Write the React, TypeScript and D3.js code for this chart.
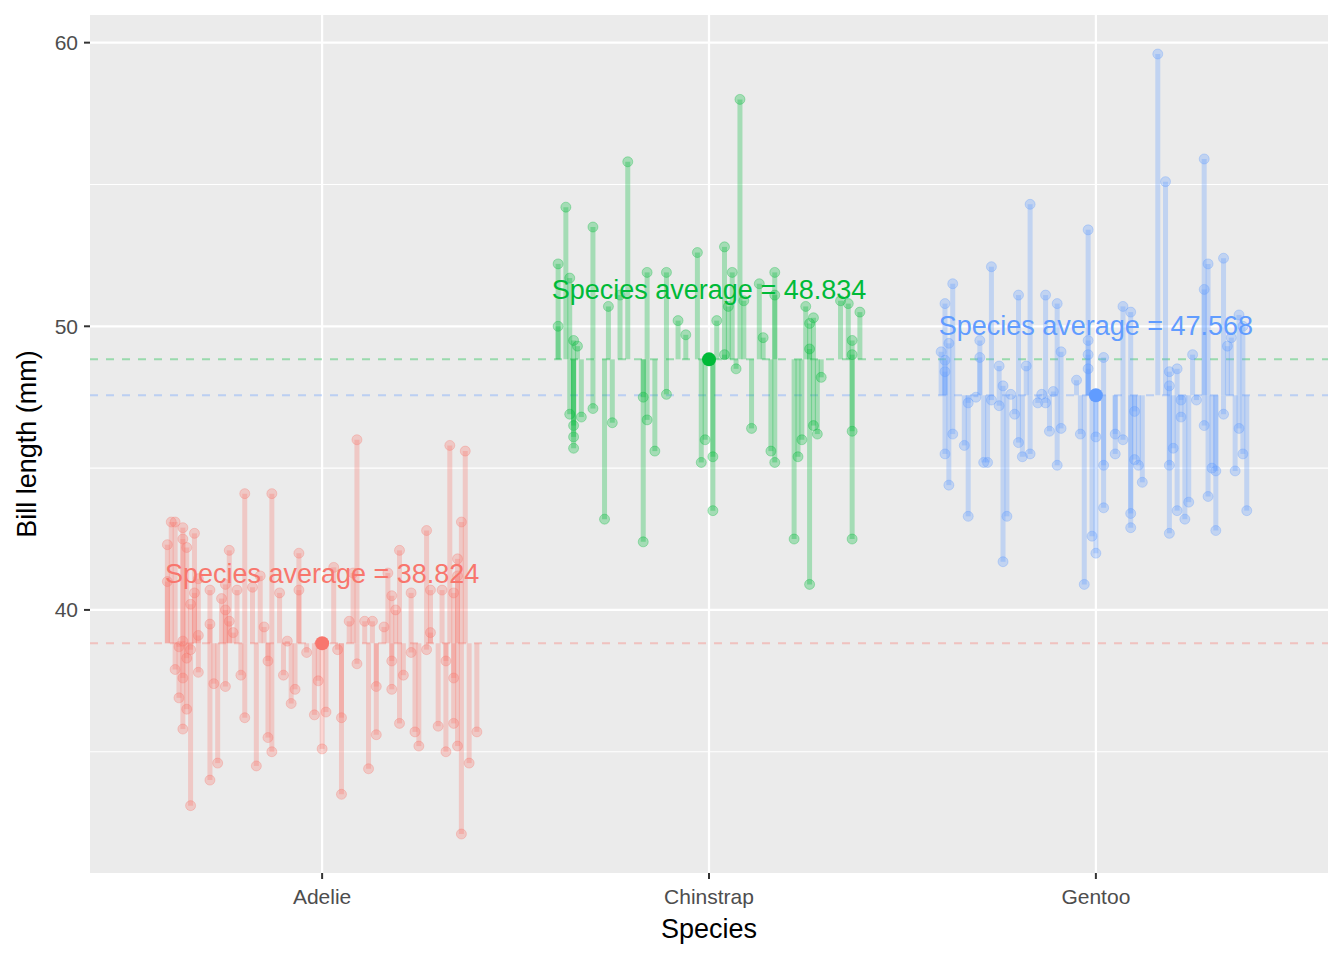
import * as d3 from 'd3';

const species = ['Adelie', 'Chinstrap', 'Gentoo'];
const colors = ['#F8766D', '#00BA38', '#619CFF'];
const means = [38.824, 48.834, 47.568];

// [jitter offset (in category units), bill length]
const adelie: [number, number][] = [
  [-0.39, 43.1], [-0.38, 43.1], [-0.36, 42.9], [-0.4, 42.3], [-0.36, 42.5], [-0.33, 42.7], [-0.35, 42.2],
  [-0.24, 42.1], [-0.2, 44.1], [-0.13, 44.1], [-0.06, 42.0], [0.09, 46.0], [0.2, 42.1], [0.33, 45.8],
  [0.37, 45.6], [0.36, 43.1], [0.27, 42.8], [0.35, 41.8], [-0.34, 33.1], [-0.29, 34.0], [-0.27, 34.6],
  [-0.17, 34.5], [0.05, 33.5], [0.12, 34.4], [0.36, 32.1], [0.38, 34.6], [0.4, 35.7], [0.32, 35.0],
  [0.35, 35.2], [-0.36, 35.8], [-0.35, 36.5], [-0.37, 36.9], [-0.38, 37.9], [-0.14, 35.5], [-0.13, 35.0],
  [0, 35.1], [-0.2, 36.2], [-0.28, 37.4], [-0.25, 37.3], [-0.21, 37.7], [-0.08, 36.7], [-0.02, 36.3],
  [0.01, 36.4], [0.05, 36.2], [0.14, 35.6], [0.2, 36.0], [0.24, 35.7], [0.25, 35.2], [0.3, 35.9],
  [0.34, 36.0], [-0.32, 37.8], [-0.35, 38.3], [-0.34, 38.6], [-0.36, 38.9], [-0.32, 39.1], [-0.29, 39.5],
  [-0.24, 39.6], [-0.23, 39.2], [-0.15, 39.4], [-0.14, 38.2], [-0.1, 37.7], [-0.07, 37.2], [-0.04, 38.5],
  [-0.01, 37.5], [0.04, 38.6], [0.09, 38.1], [0.11, 39.6], [0.13, 39.6], [0.16, 39.4], [0.18, 38.2],
  [0.21, 37.7], [0.23, 38.5], [0.27, 38.6], [0.28, 39.2], [0.32, 38.2], [0.34, 37.6], [-0.33, 40.6],
  [-0.34, 40.2], [-0.32, 41.1], [-0.26, 40.4], [-0.25, 40.0], [-0.18, 40.8], [-0.16, 41.2], [-0.11, 40.6],
  [-0.06, 40.7], [0.03, 41.5], [0.08, 41.3], [0.17, 41.3], [0.18, 40.5], [0.19, 40.0], [0.23, 40.6],
  [0.28, 40.7], [0.31, 40.7], [0.34, 40.6], [0.35, 41.2], [-0.22, 40.7], [-0.4, 41.0], [-0.29, 40.7],
  [-0.25, 40.9], [-0.09, 38.9], [0.07, 39.6], [0.18, 37.2], [-0.37, 38.7], [-0.36, 37.6], [0.14, 37.3],
];
const chinstrap: [number, number][] = [
  [-0.37, 54.2], [-0.39, 52.2], [-0.36, 51.7], [-0.39, 50.0], [-0.35, 49.5], [-0.34, 49.3], [-0.35, 46.5],
  [-0.35, 46.1], [-0.35, 45.7], [-0.36, 46.9], [-0.33, 46.8], [-0.3, 53.5], [-0.3, 47.1], [-0.27, 43.2],
  [-0.26, 50.7], [-0.25, 46.6], [-0.21, 55.8], [-0.23, 51.1], [-0.17, 47.5], [-0.17, 42.4], [-0.16, 51.9],
  [-0.16, 46.7], [-0.14, 45.6], [-0.11, 51.9], [-0.08, 50.2], [-0.06, 49.7], [-0.11, 47.6], [-0.03, 52.6],
  [-0.02, 45.2], [-0.01, 46.0], [0.01, 43.5], [0.01, 45.4], [0.02, 50.2], [0.04, 52.8], [0.04, 49.0],
  [0.06, 51.9], [0.05, 50.7], [0.07, 48.5], [0.08, 58.0], [0.09, 50.9], [0.11, 46.4], [0.13, 51.5],
  [0.14, 49.6], [0.17, 51.9], [0.17, 51.1], [0.17, 45.2], [0.16, 45.6], [0.22, 42.5], [0.23, 45.4],
  [0.24, 46.0], [0.25, 50.7], [0.26, 49.2], [0.26, 40.9], [0.26, 50.1], [0.27, 50.3], [0.27, 46.5],
  [0.28, 46.2], [0.29, 48.2], [0.34, 50.9], [0.36, 50.8], [0.37, 49.5], [0.37, 49.0], [0.37, 46.3],
  [0.37, 42.5], [0.39, 50.5],
];
const gentoo: [number, number][] = [
  [0.16, 59.6], [0.18, 55.1], [0.28, 55.9], [-0.17, 54.3], [-0.02, 53.4], [0.33, 52.4], [0.29, 52.2],
  [-0.27, 52.1], [-0.37, 51.5], [-0.39, 50.8], [-0.2, 51.1], [-0.13, 51.1], [-0.1, 50.8], [0.07, 50.7],
  [0.09, 50.5], [0.28, 51.3], [0.37, 50.4], [0.38, 50.0], [0.35, 49.6], [0.34, 49.3], [-0.4, 49.1],
  [-0.39, 48.8], [-0.39, 48.4], [-0.38, 49.4], [-0.3, 49.5], [-0.3, 48.9], [-0.25, 48.6], [-0.18, 48.6],
  [-0.09, 49.1], [-0.02, 49.5], [-0.02, 49.0], [-0.05, 48.1], [0.02, 48.9], [0.19, 48.4], [0.21, 48.5],
  [0.25, 49.0], [0.19, 47.9], [-0.24, 47.9], [-0.22, 47.6], [-0.11, 47.7], [-0.21, 46.9], [-0.14, 47.6],
  [-0.13, 47.3], [-0.15, 47.3], [-0.33, 47.3], [-0.31, 47.5], [-0.27, 47.4], [-0.25, 47.2], [-0.37, 46.2],
  [-0.34, 45.8], [-0.39, 45.5], [-0.38, 44.4], [-0.29, 45.2], [-0.28, 45.2], [-0.2, 45.9], [-0.19, 45.4],
  [-0.17, 45.5], [-0.1, 45.1], [-0.12, 46.3], [-0.09, 46.4], [-0.04, 46.2], [0, 46.1], [0.02, 45.1],
  [0.05, 46.2], [0.05, 45.5], [0.07, 46.0], [0.1, 45.3], [0.11, 45.1], [0.12, 44.5], [0.09, 43.4],
  [0.09, 42.9], [0.1, 47.0], [0.19, 45.1], [0.2, 45.7], [0.22, 47.4], [0.22, 46.8], [0.28, 46.5],
  [0.26, 47.4], [0.3, 45.0], [0.31, 44.9], [0.29, 44.0], [0.33, 46.9], [0.37, 46.4], [0.38, 45.5],
  [0.39, 43.5], [0.36, 44.9], [0.19, 42.7], [0.21, 43.5], [0.23, 43.2], [0.24, 43.8], [0.31, 42.8],
  [-0.03, 40.9], [-0.01, 42.6], [0, 42.0], [0.02, 43.6], [-0.33, 43.3], [-0.23, 43.3], [-0.24, 41.7],
  [-0.02, 48.5],
];
const groups = [adelie, chinstrap, gentoo];
const yTicks = [40, 50, 60];
const yMinor = [35, 45, 55];

const W = 1344;
const H = 960;
const m = { left: 90, right: 1328, top: 15, bottom: 873 };
const font = 'Liberation Sans, Arial, sans-serif';

export default function App() {
  const x = d3.scaleLinear().domain([0.4, 3.6]).range([m.left, m.right]);
  const y = d3.scaleLinear().domain([30.725, 60.975]).range([m.bottom, m.top]);
  return (
    <svg width={W} height={H} style={{ position: 'absolute', left: 0, top: 0 }} fontFamily={font}>
      <rect x={0} y={0} width={W} height={H} fill='white' />
      <rect x={m.left} y={m.top} width={m.right - m.left} height={m.bottom - m.top} fill='#EBEBEB' />
      {yMinor.map((t) => (
        <line key={'n' + t} x1={m.left} x2={m.right} y1={y(t)} y2={y(t)} stroke='white' strokeWidth={1.1} />
      ))}
      {yTicks.map((t) => (
        <line key={'g' + t} x1={m.left} x2={m.right} y1={y(t)} y2={y(t)} stroke='white' strokeWidth={2.2} />
      ))}
      {species.map((s, i) => (
        <line key={'v' + s} x1={x(i + 1)} x2={x(i + 1)} y1={m.top} y2={m.bottom} stroke='white' strokeWidth={2.2} />
      ))}
      {means.map((mu, i) => (
        <line key={'d' + i} x1={m.left} x2={m.right} y1={y(mu)} y2={y(mu)} stroke={colors[i]}
          strokeOpacity={0.35} strokeWidth={2} strokeDasharray='8,8' />
      ))}
      {groups.map((g, i) =>
        g.map(([j, v], k) => (
          <g key={i + '-' + k}>
            <line x1={x(i + 1 + j)} x2={x(i + 1 + j)} y1={y(means[i])} y2={y(v)} stroke={colors[i]}
              strokeOpacity={0.3} strokeWidth={5} />
            <circle cx={x(i + 1 + j)} cy={y(v)} r={5} fill={colors[i]} fillOpacity={0.3}
              stroke={colors[i]} strokeOpacity={0.3} />
          </g>
        ))
      )}
      {means.map((mu, i) => (
        <g key={'m' + i}>
          <circle cx={x(i + 1)} cy={y(mu)} r={7} fill={colors[i]} />
          <text x={x(i + 1)} y={y(mu + 2.45)} textAnchor='middle' dominantBaseline='central'
            fontSize={27} fill={colors[i]}>
            {`Species average = ${mu.toFixed(3)}`}
          </text>
        </g>
      ))}
      {yTicks.map((t) => (
        <g key={'y' + t}>
          <line x1={m.left - 6} x2={m.left} y1={y(t)} y2={y(t)} stroke='#333' strokeWidth={2} />
          <text x={m.left - 12} y={y(t)} textAnchor='end' dominantBaseline='central' fontSize={21} fill='#4D4D4D'>
            {t}
          </text>
        </g>
      ))}
      {species.map((s, i) => (
        <g key={'x' + s}>
          <line x1={x(i + 1)} x2={x(i + 1)} y1={m.bottom} y2={m.bottom + 6} stroke='#333' strokeWidth={2} />
          <text x={x(i + 1)} y={m.bottom + 23} textAnchor='middle' dominantBaseline='central' fontSize={21} fill='#4D4D4D'>
            {s}
          </text>
        </g>
      ))}
      <text x={(m.left + m.right) / 2} y={929} textAnchor='middle' dominantBaseline='central' fontSize={27}>
        Species
      </text>
      <text transform={`translate(27,${(m.top + m.bottom) / 2}) rotate(-90)`} textAnchor='middle'
        dominantBaseline='central' fontSize={27}>
        Bill length (mm)
      </text>
    </svg>
  );
}
